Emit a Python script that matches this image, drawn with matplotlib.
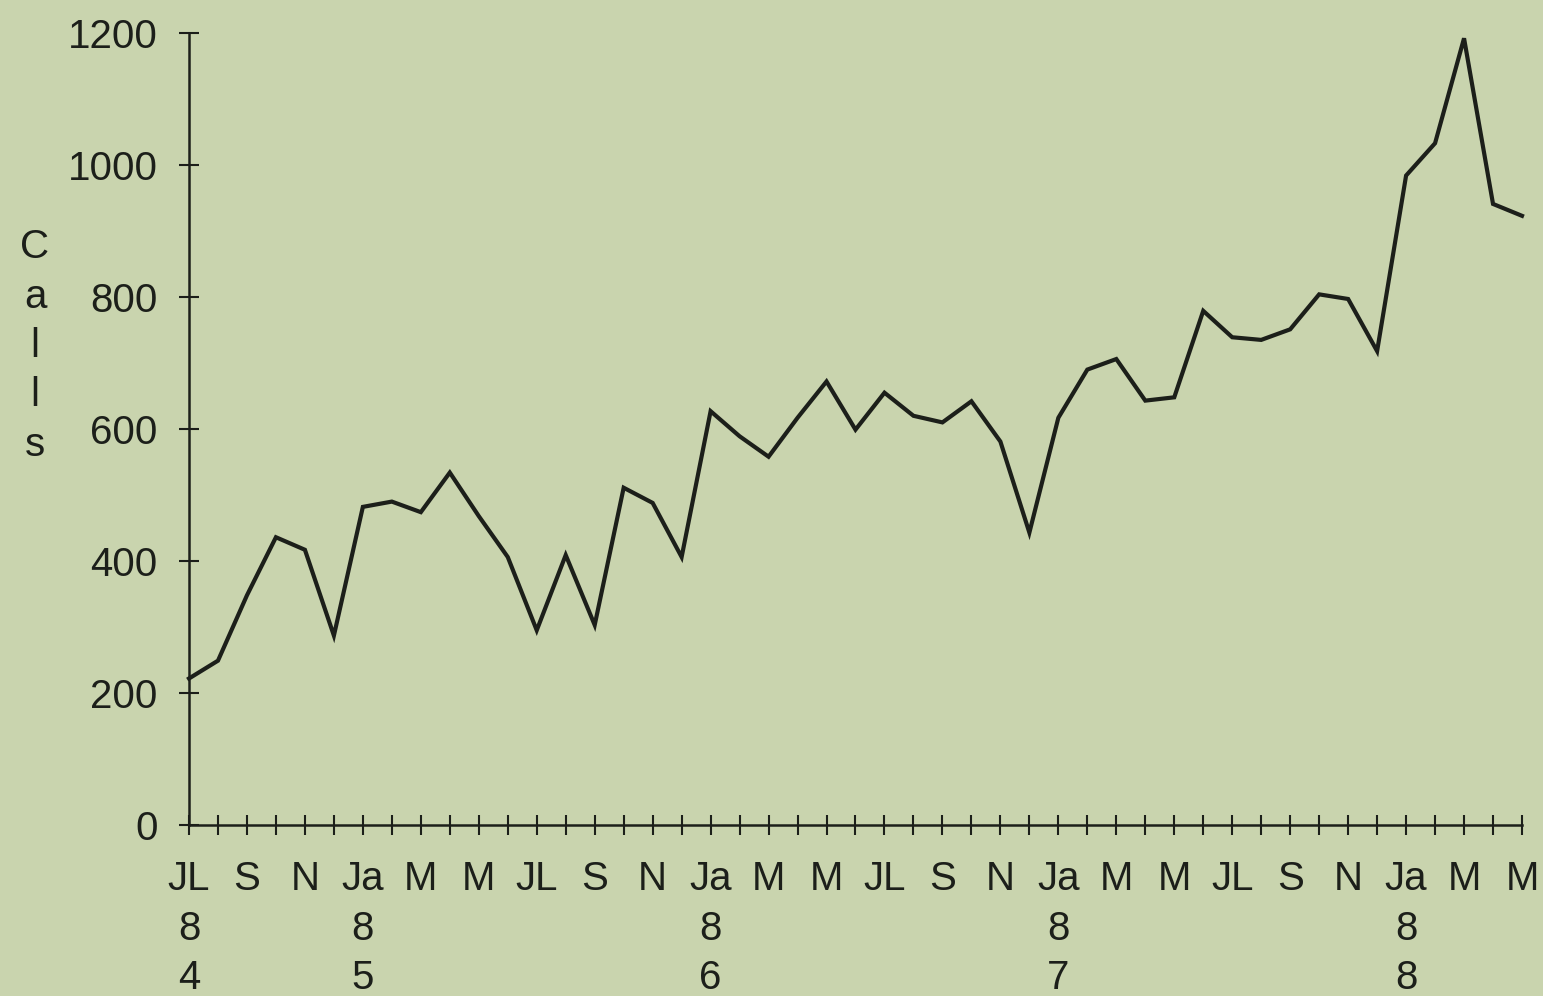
import matplotlib

matplotlib.use("Agg")

import matplotlib.pyplot as plt

# monthly call counts, July 1984 - May 1988
calls = [
    222, 249, 348, 436, 417, 287, 482, 490, 474, 534, 468, 406,
    295, 409, 303, 511, 488, 406, 627, 589, 558, 617, 672, 599,
    655, 620, 610, 642, 581, 443, 617, 690, 706, 643, 648, 779,
    739, 735, 751, 804, 797, 718, 984, 1033, 1192, 941, 923,
]
# labels every second month, year digits stacked under Jan / first month
month_labels = [
    "JL\n8\n4", "S", "N", "Ja\n8\n5", "M", "M",
    "JL", "S", "N", "Ja\n8\n6", "M", "M",
    "JL", "S", "N", "Ja\n8\n7", "M", "M",
    "JL", "S", "N", "Ja\n8\n8", "M", "M",
]
y_ticks = [0, 200, 400, 600, 800, 1000, 1200]

BG = "#c9d4ae"
INK = "#1c1f1a"
FONT = "Liberation Sans"

fig = plt.figure(figsize=(15.43, 9.96), dpi=100, facecolor=BG)
ax = fig.add_axes([189 / 1543, 1 - 825 / 996, 1333 / 1543, 792 / 996])
ax.set_facecolor(BG)

months = list(range(len(calls)))
ax.plot(months, calls, color=INK, lw=3.0, solid_joinstyle="miter", clip_on=False)

ax.set_xlim(0, len(calls) - 1)
ax.set_ylim(0, 1200)
for side in ("top", "right"):
    ax.spines[side].set_visible(False)
for side in ("left", "bottom"):
    ax.spines[side].set_color(INK)
    ax.spines[side].set_linewidth(1.8)

ax.set_xticks(months)
tick_text = []
for i in months:
    tick_text.append(month_labels[i // 2] if i % 2 == 0 else "")
ax.set_xticklabels(tick_text, fontsize=29, family=FONT, color=INK,
                   linespacing=1.38)
ax.set_yticks(y_ticks)
ax.set_yticklabels([str(v) for v in y_ticks], fontsize=29, family=FONT,
                   color=INK)
ax.tick_params(axis="x", direction="inout", length=15, width=1.5,
               color=INK, pad=18)
ax.tick_params(axis="y", direction="inout", length=15, width=1.5,
               color=INK, pad=15)

fig.text(35 / 1543, 1 - 346 / 996, "C\na\nl\nl\ns", ha="center", va="center",
         fontsize=29, family=FONT, color=INK, linespacing=1.38)

fig.savefig("out.png", dpi=100, facecolor=BG)
